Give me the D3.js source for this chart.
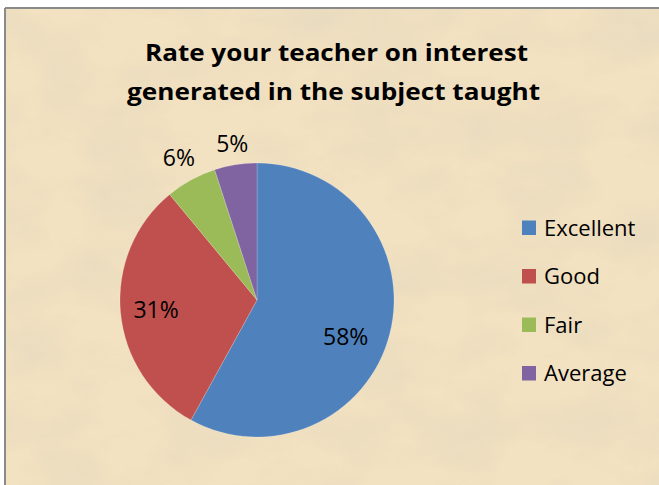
<!DOCTYPE html>
<html><head><meta charset="utf-8">
<script src="https://cdn.jsdelivr.net/npm/d3@7"></script>
<style>
html,body{margin:0;padding:0;background:#fff;}
svg{display:block;}
</style></head>
<body>
<script>
const categories = ["Excellent", "Good", "Fair", "Average"];
const values = [58, 31, 6, 5];
const colors = ["#4f81bd", "#c0504d", "#9bbb59", "#8064a2"];
const titleLines = ["Rate your teacher on interest", "generated in the subject taught"];

const W = 659, H = 485;
const svg = d3.select("body").append("svg").attr("width", W).attr("height", H);
const defs = svg.append("defs");
const f = defs.append("filter").attr("id","paper").attr("x",0).attr("y",0).attr("width","100%").attr("height","100%");
f.append("feTurbulence").attr("type","fractalNoise").attr("baseFrequency","0.012 0.02").attr("numOctaves",4).attr("seed",7).attr("result","n");
f.append("feColorMatrix").attr("in","n").attr("type","matrix")
 .attr("values","0 0 0 0 0.80  0 0 0 0 0.70  0 0 0 0 0.52  0 0 0 -1.6 1.05").attr("result","c");
f.append("feComposite").attr("in","c").attr("in2","SourceGraphic").attr("operator","in").attr("result","cc");
f.append("feMerge").call(m=>{m.append("feMergeNode").attr("in","SourceGraphic");m.append("feMergeNode").attr("in","cc");});

// frame
svg.append("rect").attr("x",5).attr("y",8).attr("width",W).attr("height",H).attr("fill","#f3e2c1").attr("filter","url(#paper)");
svg.append("line").attr("x1",5).attr("x2",W).attr("y1",8).attr("y2",8).attr("stroke","#8a8a8a").attr("stroke-width",2);
svg.append("line").attr("x1",5).attr("x2",5).attr("y1",8).attr("y2",H).attr("stroke","#8a8a8a").attr("stroke-width",2);

const font = "'Open Sans', Lato, sans-serif";
const titleWidths = [383, 413];
const titleCenters = [336.5, 333.5];
svg.append("g").selectAll("text").data(titleLines).join("text")
  .attr("x",(d,i)=>titleCenters[i]).attr("y",(d,i)=>61+i*38.5)
  .attr("text-anchor","middle").attr("font-family",font).attr("font-weight","bold")
  .attr("font-size",24).attr("fill","#000")
  .attr("textLength",(d,i)=>titleWidths[i]).attr("lengthAdjust","spacingAndGlyphs")
  .text(d=>d);

const cx = 257, cy = 300, r = 137;
const pie = d3.pie().sort(null).value(d=>d.v);
const arcs = pie(categories.map((c,i)=>({c, v:values[i], col:colors[i]})));
const arc = d3.arc().innerRadius(0).outerRadius(r);
const g = svg.append("g").attr("transform",`translate(${cx},${cy})`);
g.selectAll("path").data(arcs).join("path").attr("d",arc).attr("fill",d=>d.data.col)
  .attr("stroke","rgba(255,255,255,0.3)").attr("stroke-width",0.6);

// label layout (best-fit style): inside big slices, outside small slices
const labelFontSize = 23, capH = labelFontSize*0.714;
function labelPos(d){
  const mid = (d.startAngle + d.endAngle)/2;
  let a = mid, dist;
  if (d.data.v >= 20) {
    // inside; very large slices are nudged toward their lower half like Excel's best fit
    if (d.endAngle - d.startAngle > Math.PI) a = mid + 0.14;
    dist = r*(d.endAngle - d.startAngle > Math.PI ? 0.70 : 0.74);
  } else {
    const hw = 15, hh = capH/2 + 3;
    const ext = Math.abs(hw*Math.sin(a)) + Math.abs(hh*Math.cos(a));
    dist = r + 8 + ext;
  }
  return [dist*Math.sin(a), -dist*Math.cos(a)];
}
g.selectAll("text").data(arcs).join("text")
  .attr("x",d=>labelPos(d)[0]).attr("y",d=>labelPos(d)[1] + capH/2)
  .attr("text-anchor","middle")
  .attr("font-family",font).attr("font-size",labelFontSize).attr("fill","#000")
  .text(d=>d.data.v+"%");

const leg = svg.append("g").selectAll("g").data(categories).join("g")
  .attr("transform",(d,i)=>`translate(522,${220.5+i*48.5})`);
leg.append("rect").attr("width",14).attr("height",14.5).attr("fill",(d,i)=>colors[i]);
leg.append("text").attr("x",22).attr("y",15.3)
  .attr("font-family",font).attr("font-size",22).attr("fill","#000").text(d=>d);
</script>
</body></html>
